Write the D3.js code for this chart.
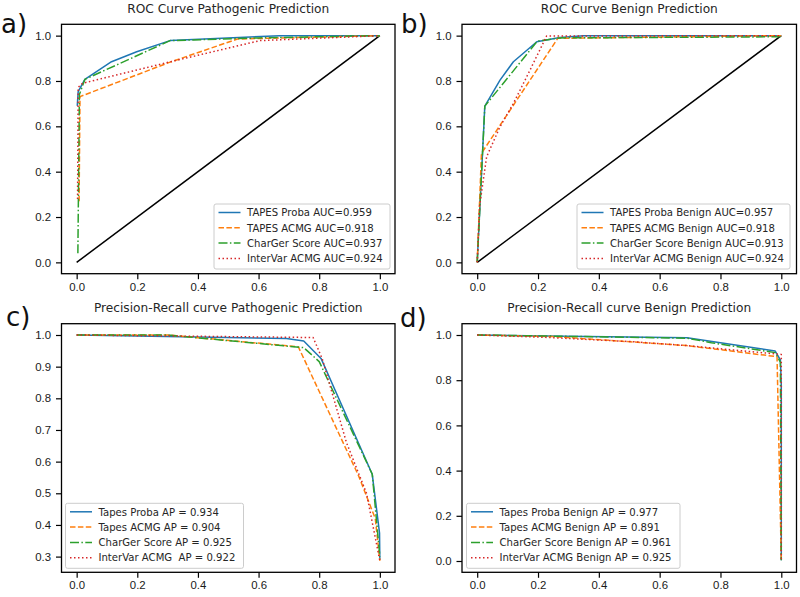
<!DOCTYPE html>
<html>
<head>
<meta charset="utf-8">
<script src="https://cdn.jsdelivr.net/npm/d3@7"></script>
<style>
  body { margin: 0; background: #fff; }
  svg { font-family: "DejaVu Sans", sans-serif; }
  .tick text { fill: #1a1a1a; font-size: 11.4px; }
  .tick line { stroke: #000; stroke-width: 1.2; }
  .domain { display: none; }
</style>
</head>
<body>
<script>
// ---------- data ----------
// panel a: ROC pathogenic, [fpr, tpr]
const rocPathProba   = [[0.002,0.69],[0.005,0.753],[0.027,0.807],[0.115,0.885],[0.198,0.929],[0.308,0.978],[0.67,1.0],[1,1]];
const rocPathAcmg    = [[0.008,0.27],[0.011,0.731],[0.308,0.883],[0.53,0.985],[1,1]];
const rocPathCharger = [[0.004,0.04],[0.009,0.74],[0.027,0.807],[0.308,0.978],[0.6,0.99],[1,1]];
const rocPathInter   = [[0.003,0.28],[0.005,0.772],[0.02,0.79],[0.31,0.885],[0.604,0.978],[1,1]];

// panel b: ROC benign
const rocBenProba   = [[0,0],[0.025,0.689],[0.075,0.804],[0.119,0.885],[0.196,0.973],[0.272,0.992],[0.35,1.0],[1,1]];
const rocBenAcmg    = [[0,0],[0.014,0.481],[0.265,0.988],[1,1]];
const rocBenCharger = [[0,0],[0.025,0.689],[0.198,0.976],[0.272,0.99],[1,0.995]];
const rocBenInter   = [[0,0],[0.008,0.25],[0.031,0.466],[0.075,0.598],[0.119,0.701],[0.163,0.819],[0.206,0.937],[0.228,0.998],[1,1]];

// panel c: PR pathogenic, [recall, precision]
const prPathProba   = [[0,1.0],[0.692,0.989],[0.749,0.981],[0.806,0.926],[0.975,0.56],[0.999,0.374],[1.0,0.29]];
const prPathAcmg    = [[0,1.0],[0.3,1.0],[0.731,0.963],[0.93,0.555],[0.985,0.42],[1.0,0.287]];
const prPathCharger = [[0,1.0],[0.3,1.0],[0.749,0.96],[0.8,0.916],[0.975,0.56],[1.0,0.30]];
const prPathInter   = [[0,1.0],[0.78,0.992],[0.81,0.925],[0.89,0.66],[0.956,0.5],[1.0,0.287]];

// panel d: PR benign
const prBenProba   = [[0,1.0],[0.69,0.988],[0.98,0.929],[0.997,0.89],[1.0,0.78],[1.0,0.003]];
const prBenAcmg    = [[0,1.0],[0.25,0.993],[0.69,0.953],[0.986,0.904],[1.0,0.003]];
const prBenCharger = [[0,1.0],[0.69,0.986],[0.77,0.966],[0.98,0.922],[0.997,0.88],[1.0,0.003]];
const prBenInter   = [[0,1.0],[0.22,0.99],[0.515,0.97],[0.69,0.953],[1.0,0.914],[1.0,0.003]];

const rocTicks = [0, 0.2, 0.4, 0.6, 0.8, 1.0];
const prPathYTicks = [0.3, 0.4, 0.5, 0.6, 0.7, 0.8, 0.9, 1.0];

const labelsA = ["TAPES Proba AUC=0.959", "TAPES ACMG AUC=0.918", "CharGer Score AUC=0.937", "InterVar ACMG AUC=0.924"];
const labelsB = ["TAPES Proba Benign AUC=0.957", "TAPES ACMG Benign AUC=0.918", "CharGer Score Benign AUC=0.913", "InterVar ACMG Benign AUC=0.924"];
const labelsC = ["Tapes Proba AP = 0.934", "Tapes ACMG AP = 0.904", "CharGer Score AP = 0.925", "InterVar ACMG  AP = 0.922"];
const labelsD = ["Tapes Proba Benign AP = 0.977", "Tapes ACMG Benign AP = 0.891", "CharGer Score Benign AP = 0.961", "InterVar ACMG Benign AP = 0.925"];

// line styles for the 4 series
const styles = [
  {color: "#1f77b4", dash: null},
  {color: "#ff7f0e", dash: "5.5,2.4"},
  {color: "#2ca02c", dash: "9,2.4,1.5,2.4"},
  {color: "#d62728", dash: "1.5,2.5"}
];

const W = 800, H = 597;
const svg = d3.select("body").append("svg")
    .attr("width", W)
    .attr("height", H);

// ---------------------------//
//       ONE PANEL            //
// ---------------------------//
function panel(opt) {
  const x = d3.scaleLinear().domain([-0.05, 1.05]).range([opt.x0, opt.x1]);
  const y = d3.scaleLinear().domain(opt.ydom).range([opt.y1, opt.y0]);
  const g = svg.append("g");

  // title
  g.append("text")
      .attr("x", (opt.x0 + opt.x1) / 2)
      .attr("y", opt.y0 - 11.5)
      .attr("text-anchor", "middle")
      .style("font-size", "12.2px")
      .style("fill", "#262626")
      .text(opt.title);

  // panel letter
  g.append("text")
      .attr("x", opt.lx)
      .attr("y", opt.ly)
      .style("font-size", "26px")
      .style("fill", "#111")
      .text(opt.letter);

  // axes
  g.append("g")
      .attr("transform", "translate(0," + opt.y1 + ")")
      .call(d3.axisBottom(x).tickValues(rocTicks).tickFormat(d3.format(".1f")).tickSize(5.5).tickPadding(3.5));
  g.append("g")
      .attr("transform", "translate(" + opt.x0 + ",0)")
      .call(d3.axisLeft(y).tickValues(opt.yticks).tickFormat(d3.format(".1f")).tickSize(5.5).tickPadding(5));

  const clipId = "clip" + opt.letter[0];
  g.append("clipPath").attr("id", clipId)
    .append("rect")
      .attr("x", opt.x0).attr("y", opt.y0)
      .attr("width", opt.x1 - opt.x0).attr("height", opt.y1 - opt.y0);

  const line = d3.line().x(d => x(d[0])).y(d => y(d[1]));
  const plot = g.append("g").attr("clip-path", "url(#" + clipId + ")");

  if (opt.diag) {
    plot.append("path")
        .attr("d", line([[0, 0], [1, 1]]))
        .attr("fill", "none")
        .attr("stroke", "#000")
        .attr("stroke-width", 1.5);
  }

  opt.series.forEach((s, i) => {
    plot.append("path")
        .attr("d", line(s))
        .attr("fill", "none")
        .attr("stroke", styles[i].color)
        .attr("stroke-width", 1.5)
        .attr("stroke-dasharray", styles[i].dash)
        .attr("stroke-linejoin", "round");
  });

  // frame
  g.append("rect")
      .attr("x", opt.x0).attr("y", opt.y0)
      .attr("width", opt.x1 - opt.x0).attr("height", opt.y1 - opt.y0)
      .attr("fill", "none")
      .attr("stroke", "#000")
      .attr("stroke-width", 1.3);

  // legend
  const L = opt.legend;
  const lg = g.append("g");
  lg.append("rect")
      .attr("x", L.x).attr("y", L.y)
      .attr("width", L.w).attr("height", 65)
      .attr("rx", 2)
      .attr("fill", "#fff").attr("fill-opacity", 0.85)
      .attr("stroke", "#ccc").attr("stroke-width", 1);
  opt.labels.forEach((t, i) => {
    const cy = L.y + 8.5 + i * 15.3;
    lg.append("line")
        .attr("x1", L.x + 4.5).attr("x2", L.x + 26.5)
        .attr("y1", cy).attr("y2", cy)
        .attr("stroke", styles[i].color)
        .attr("stroke-width", 1.5)
        .attr("stroke-dasharray", styles[i].dash);
    lg.append("text")
        .attr("x", L.x + 33)
        .attr("y", cy + 3.7)
        .style("font-size", "10.1px")
        .style("fill", "#262626")
        .style("white-space", "pre")
        .text(t);
  });
}

panel({
  x0: 61.5, x1: 395, y0: 24.3, y1: 273.7, ydom: [-0.05, 1.05], yticks: rocTicks,
  title: "ROC Curve Pathogenic Prediction", letter: "a)", lx: 1, ly: 32.5, diag: true,
  series: [rocPathProba, rocPathAcmg, rocPathCharger, rocPathInter],
  labels: labelsA, legend: {x: 214, y: 204, w: 176}
});
panel({
  x0: 462, x1: 796.5, y0: 24.3, y1: 273.7, ydom: [-0.05, 1.05], yticks: rocTicks,
  title: "ROC Curve Benign Prediction", letter: "b)", lx: 401, ly: 32.5, diag: true,
  series: [rocBenProba, rocBenAcmg, rocBenCharger, rocBenInter],
  labels: labelsB, legend: {x: 577, y: 204, w: 213}
});
panel({
  x0: 61.5, x1: 395, y0: 323.7, y1: 572.3, ydom: [0.2504, 1.0357], yticks: prPathYTicks,
  title: "Precision-Recall curve Pathogenic Prediction", letter: "c)", lx: 6, ly: 326, diag: false,
  series: [prPathProba, prPathAcmg, prPathCharger, prPathInter],
  labels: labelsC, legend: {x: 65.5, y: 503.3, w: 178}
});
panel({
  x0: 462, x1: 796.5, y0: 323.7, y1: 572.3, ydom: [-0.05, 1.05], yticks: rocTicks,
  title: "Precision-Recall curve Benign Prediction", letter: "d)", lx: 400, ly: 327, diag: false,
  series: [prBenProba, prBenAcmg, prBenCharger, prBenInter],
  labels: labelsD, legend: {x: 466.5, y: 503.3, w: 213.5}
});
</script>
</body>
</html>
